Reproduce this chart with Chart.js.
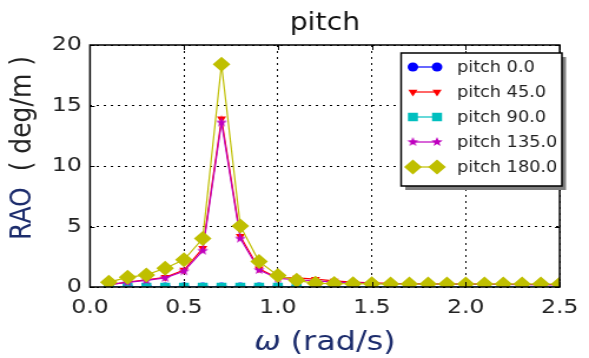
<!DOCTYPE html>
<html>
<head>
<meta charset="utf-8">
<script src="https://cdn.jsdelivr.net/npm/chart.js@4/dist/chart.umd.min.js"></script>
<style>
  html, body { margin: 0; padding: 0; background: #fff; overflow: hidden; }
  /* figure is drawn 500 wide and stretched to 589 */
  #fig { width: 500px; height: 358px; transform: scaleX(1.178); transform-origin: 0 0; }
</style>
</head>
<body>
<div id="fig"><canvas id="rao" width="500" height="358"></canvas></div>
<script>
// frequencies (rad/s)
var omega = [0.1, 0.2, 0.3, 0.4, 0.5, 0.6, 0.7, 0.8, 0.9, 1.0, 1.1, 1.2, 1.3,
             1.4, 1.5, 1.6, 1.7, 1.8, 1.9, 2.0, 2.1, 2.2, 2.3, 2.4, 2.5];

// pitch RAO (deg/m) per heading
var pitch0   = [0, 0, 0, 0, 0, 0, 0, 0, 0, 0, 0, 0, 0, 0, 0, 0, 0, 0, 0, 0, 0, 0, 0, 0, 0];
var pitch45  = [0.2, 0.4, 0.6, 0.8, 1.4, 3.2, 13.9, 4.2, 1.5, 0.75, 0.75, 0.65, 0.5,
                0.4, 0.35, 0.3, 0.28, 0.26, 0.25, 0.24, 0.23, 0.22, 0.21, 0.2, 0.2];
var pitch90  = [0, 0, 0, 0, 0, 0, 0, 0, 0, 0, 0, 0, 0, 0, 0, 0, 0, 0, 0, 0, 0, 0, 0, 0, 0];
var pitch135 = [0.2, 0.38, 0.55, 0.75, 1.3, 3.0, 13.6, 4.0, 1.4, 0.7, 0.6, 0.5, 0.4,
                0.35, 0.3, 0.28, 0.26, 0.25, 0.24, 0.23, 0.22, 0.21, 0.2, 0.2, 0.2];
var pitch180 = [0.4, 0.8, 1.0, 1.55, 2.25, 4.0, 18.4, 5.05, 2.1, 0.95, 0.55, 0.3, 0.28,
                0.27, 0.26, 0.25, 0.25, 0.25, 0.25, 0.25, 0.25, 0.25, 0.25, 0.25, 0.25];

var nomes = ['pitch 0.0', 'pitch 45.0', 'pitch 90.0', 'pitch 135.0', 'pitch 180.0'];
var xTicks = [0, 0.5, 1.0, 1.5, 2.0, 2.5];
var yTicks = [0, 5, 10, 15, 20];

var fonte = "'DejaVu Sans', sans-serif";

// filled five-point star marker
function estrela(cor, r) {
    var c = document.createElement('canvas');
    var s = Math.ceil(r * 2 + 2);
    c.width = s; c.height = s;
    var g = c.getContext('2d');
    g.fillStyle = cor;
    g.beginPath();
    for (var i = 0; i < 10; i++) {
        var rr = i % 2 == 0 ? r : r * 0.42;
        var a = -Math.PI / 2 + i * Math.PI / 5;
        var px = s / 2 + rr * Math.cos(a);
        var py = s / 2 + rr * Math.sin(a);
        if (i == 0) g.moveTo(px, py); else g.lineTo(px, py);
    }
    g.closePath();
    g.fill();
    return c;
}

function pontos(v) {
    var out = [];
    for (var i = 0; i < omega.length; i++) out.push({x: omega[i], y: v[i]});
    return out;
}

function serie(nome, v, cor, estilo, raio, rot, ordem) {
    return {
        label: nome,
        data: pontos(v),
        borderColor: cor,
        backgroundColor: cor,
        pointBackgroundColor: cor,
        pointBorderColor: cor,
        pointBorderWidth: 0,
        borderWidth: 1.2,
        pointStyle: estilo,
        pointRadius: raio,
        pointRotation: rot,
        tension: 0,
        order: ordem
    };
}

var datasets = [
    serie(nomes[0], pitch0, '#0000ff', 'circle', 4.5, 0, 4),
    serie(nomes[1], pitch45, '#ff0000', 'triangle', 4.5, 180, 3),
    serie(nomes[2], pitch90, '#00bfbf', 'rect', 6, 0, 2),
    serie(nomes[3], pitch135, '#bf00bf', estrela('#bf00bf', 5), 5, 0, 1),
    serie(nomes[4], pitch180, '#bfbf00', 'rectRot', 7.5, 0, 0)
];

// title, axis frame, inward ticks, axis labels and legend
var moldura = {
    id: 'moldura',
    afterDraw: function (chart) {
        var ctx = chart.ctx;
        var a = chart.chartArea;
        var xs = chart.scales.x, ys = chart.scales.y;
        var cx = (a.left + a.right) / 2;
        ctx.save();
        ctx.strokeStyle = '#000';
        ctx.lineWidth = 1;
        xTicks.forEach(function (t) {
            var px = Math.round(xs.getPixelForValue(t)) + 0.5;
            ctx.beginPath();
            ctx.moveTo(px, a.bottom); ctx.lineTo(px, a.bottom - 5);
            ctx.moveTo(px, a.top); ctx.lineTo(px, a.top + 5);
            ctx.stroke();
        });
        yTicks.forEach(function (t) {
            var py = Math.round(ys.getPixelForValue(t)) + 0.5;
            ctx.beginPath();
            ctx.moveTo(a.left, py); ctx.lineTo(a.left + 4, py);
            ctx.moveTo(a.right, py); ctx.lineTo(a.right - 4, py);
            ctx.stroke();
        });
        ctx.lineWidth = 1.5;
        ctx.strokeRect(a.left, a.top, a.right - a.left, a.bottom - a.top);

        // title
        ctx.fillStyle = '#111';
        ctx.font = '24px ' + fonte;
        ctx.textAlign = 'center';
        ctx.textBaseline = 'alphabetic';
        ctx.fillText('pitch', cx, 30);

        // y label
        ctx.save();
        ctx.translate(19, 148);
        ctx.rotate(-Math.PI / 2);
        ctx.textBaseline = 'middle';
        ctx.font = '25px ' + fonte;
        var p1 = 'RAO', p2 = '  ( deg/m )';
        var w1 = ctx.measureText(p1).width, w2 = ctx.measureText(p2).width;
        var x0 = -(w1 + w2) / 2;
        ctx.textAlign = 'left';
        ctx.fillStyle = '#1c2c6c';
        ctx.fillText(p1, x0, 0);
        ctx.fillStyle = '#222';
        ctx.fillText(p2, x0 + w1, 0);
        ctx.restore();

        // x label
        ctx.textBaseline = 'alphabetic';
        ctx.textAlign = 'left';
        ctx.fillStyle = '#1c2c6c';
        ctx.font = 'italic 27px ' + fonte;
        var wo = ctx.measureText('ω').width;
        ctx.font = '27px ' + fonte;
        var wr = ctx.measureText(' (rad/s)').width;
        var lx = cx - (wo + wr) / 2;
        ctx.font = 'italic 27px ' + fonte;
        ctx.fillText('ω', lx, 350);
        ctx.font = '27px ' + fonte;
        ctx.fillText(' (rad/s)', lx + wo, 350);

        // legend
        var L = 340.5, T = 53, W = 136.5, H = 133;
        ctx.fillStyle = '#808080';
        ctx.fillRect(L + 3.5, T + 4, W, H);
        ctx.fillStyle = '#fff';
        ctx.fillRect(L, T, W, H);
        ctx.lineWidth = 1.5;
        ctx.strokeStyle = '#000';
        ctx.strokeRect(L, T, W, H);
        ctx.font = '15px ' + fonte;
        ctx.textBaseline = 'middle';
        for (var i = 0; i < chart.data.datasets.length; i++) {
            var ds = chart.data.datasets[i];
            var yy = 67 + i * 25;
            ctx.strokeStyle = ds.borderColor;
            ctx.lineWidth = ds.borderWidth;
            ctx.beginPath();
            ctx.moveTo(350.5, yy); ctx.lineTo(371, yy);
            ctx.stroke();
            ctx.fillStyle = ds.backgroundColor;
            [350.5, 371].forEach(function (mx) {
                Chart.helpers.drawPoint(ctx, {
                    pointStyle: ds.pointStyle,
                    radius: ds.pointRadius,
                    rotation: ds.pointRotation,
                    borderWidth: 0
                }, mx, yy);
            });
            ctx.fillStyle = '#222';
            ctx.fillText(ds.label, 388, yy + 1);
        }
        ctx.restore();
    }
};

var grafico = new Chart(document.getElementById('rao'), {
    type: 'line',
    data: { datasets: datasets },
    plugins: [moldura],
    options: {
        responsive: false,
        animation: false,
        devicePixelRatio: 1,
        layout: { padding: { left: 0, right: 14.4, top: 45, bottom: 0 } },
        plugins: {
            legend: { display: false },
            tooltip: { enabled: false },
            title: { display: false }
        },
        scales: {
            x: {
                type: 'linear',
                min: 0, max: 2.5,
                afterFit: function (s) { s.height = 71; },
                afterBuildTicks: function (s) { s.ticks = xTicks.map(function (v) { return {value: v}; }); },
                ticks: {
                    color: '#222',
                    font: { family: fonte, size: 20 },
                    padding: 9,
                    maxRotation: 0,
                    callback: function (v) { return Number(v).toFixed(1); }
                },
                grid: { color: '#000', lineWidth: 1, drawTicks: false },
                border: { display: false, dash: [2, 4] }
            },
            y: {
                min: 0, max: 20,
                afterFit: function (s) { s.width = 76.4; },
                afterBuildTicks: function (s) { s.ticks = yTicks.map(function (v) { return {value: v}; }); },
                ticks: {
                    color: '#222',
                    font: { family: fonte, size: 20 },
                    padding: 7
                },
                grid: { color: '#000', lineWidth: 1, drawTicks: false },
                border: { display: false, dash: [2, 4] }
            }
        }
    }
});
</script>
</body>
</html>
